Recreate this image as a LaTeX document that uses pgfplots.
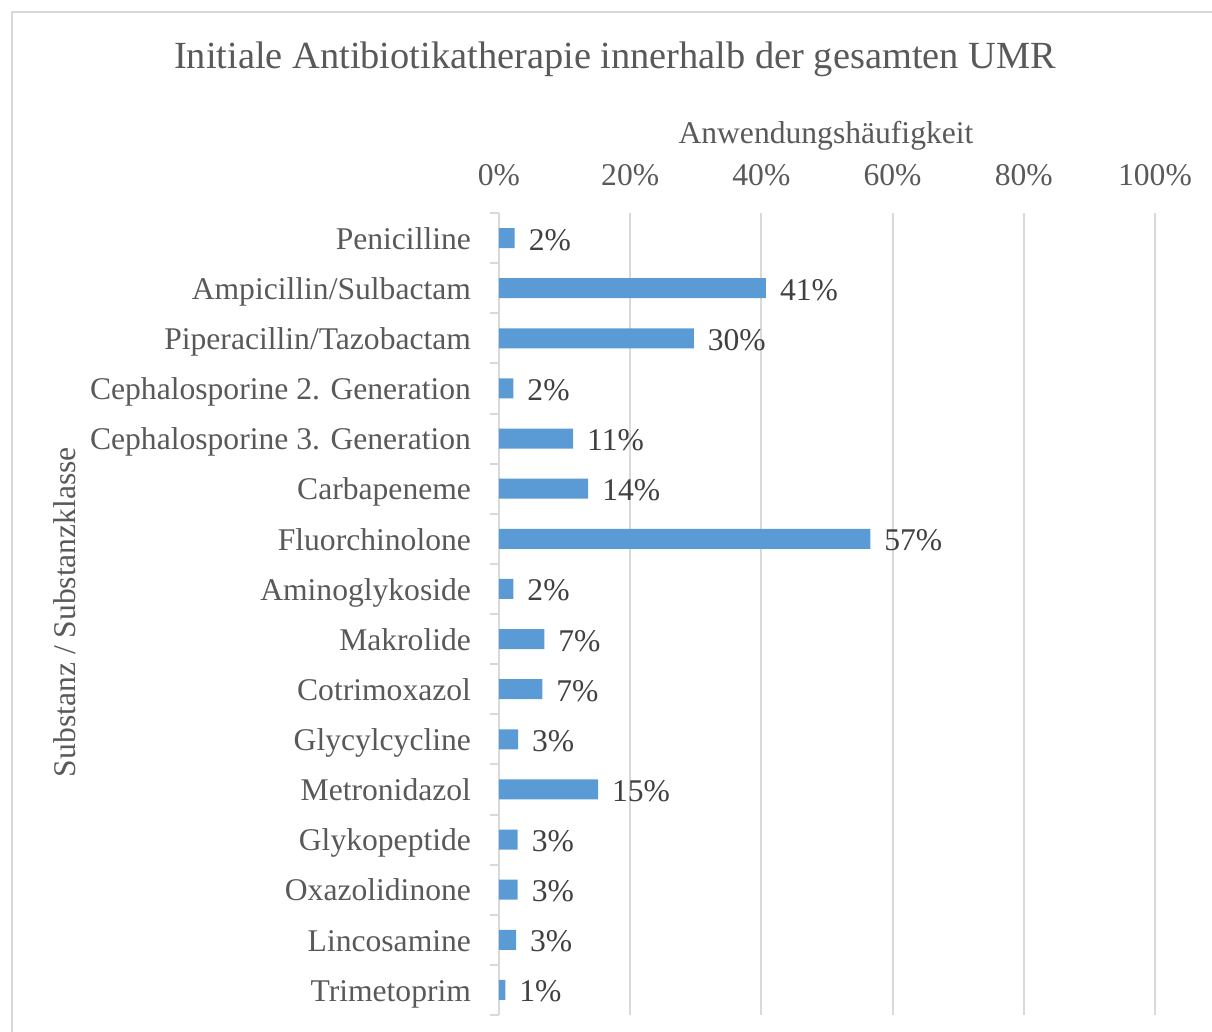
\documentclass[border=0pt]{standalone}
\usepackage{pgfplots}
\pgfplotsset{compat=1.18}
\usepackage{fontspec}
\setmainfont{Liberation Serif}

\definecolor{barblue}{HTML}{5B9BD5}
\definecolor{txtgray}{HTML}{595959}
\definecolor{lblgray}{HTML}{404040}
\definecolor{gridgray}{HTML}{D9D9D9}

\newcommand{\lblfont}{\fontsize{15.8}{18}\selectfont}

\begin{document}
\begin{tikzpicture}
\useasboundingbox (0,0) rectangle (606pt,-516pt);
% chart frame (top and left edge visible)
\draw[gridgray, line width=1pt] (6pt,-520pt) -- (6pt,-6pt) -- (610pt,-6pt);

\begin{axis}[
    at={(249.5pt,-507.5pt)}, anchor=south west,
    scale only axis, width=328pt, height=401pt,
    xbar, bar width=10pt,
    xmin=0, xmax=100, ymin=-0.5, ymax=15.5,
    y dir=reverse,
    axis x line*=top, axis y line*=left,
    x axis line style={draw=none},
    y axis line style={gridgray, line width=1pt},
    xtick={0,20,40,60,80,100},
    xticklabels={0\%,20\%,40\%,60\%,80\%,100\%},
    xmajorgrids, grid style={gridgray, line width=1pt},
    ytick={0,...,15},
    yticklabels={Penicilline, Ampicillin/Sulbactam, Piperacillin/Tazobactam,
        Cephalosporine 2. Generation, Cephalosporine 3. Generation, Carbapeneme,
        Fluorchinolone, Aminoglykoside, Makrolide, Cotrimoxazol, Glycylcycline,
        Metronidazol, Glykopeptide, Oxazolidinone, Lincosamine, Trimetoprim},
    major tick length=0pt,
    extra y ticks={-0.5,0.5,...,15.5},
    extra y tick labels={},
    extra y tick style={major tick length=4.5pt, tick align=outside,
        tick style={gridgray, line width=1pt}},
    xticklabel style={font=\lblfont, text=txtgray, anchor=base, yshift=14pt},
    yticklabel style={font=\lblfont, text=txtgray, anchor=base east,
        xshift=-10.5pt, yshift=-5.6pt},
    /pgf/number format/assume math mode=true,
]
\addplot[fill=barblue, draw=none, point meta=x,
    nodes near coords={\pgfmathprintnumber[fixed,precision=0,assume math mode=true]{\pgfplotspointmeta}\%},
    nodes near coords style={font=\lblfont, text=lblgray, anchor=base west,
        xshift=3.5pt, yshift=-6pt}]
coordinates {
    (2.4,0) (40.7,1) (29.7,2) (2.2,3) (11.3,4) (13.6,5) (56.6,6) (2.2,7)
    (6.9,8) (6.6,9) (2.9,10) (15.1,11) (2.85,12) (2.85,13) (2.6,14) (0.96,15)
};
\end{axis}

\node[anchor=base, text=txtgray, font=\fontsize{19.2}{22}\selectfont]
    at (307.5pt,-34.2pt) {Initiale Antibiotikatherapie innerhalb der gesamten UMR};
\node[anchor=base, text=txtgray, font=\lblfont]
    at (413pt,-72pt) {Anwendungshäufigkeit};
\node[rotate=90, text=txtgray, font=\lblfont]
    at (32.5pt,-306pt) {Substanz / Substanzklasse};
\end{tikzpicture}
\end{document}
